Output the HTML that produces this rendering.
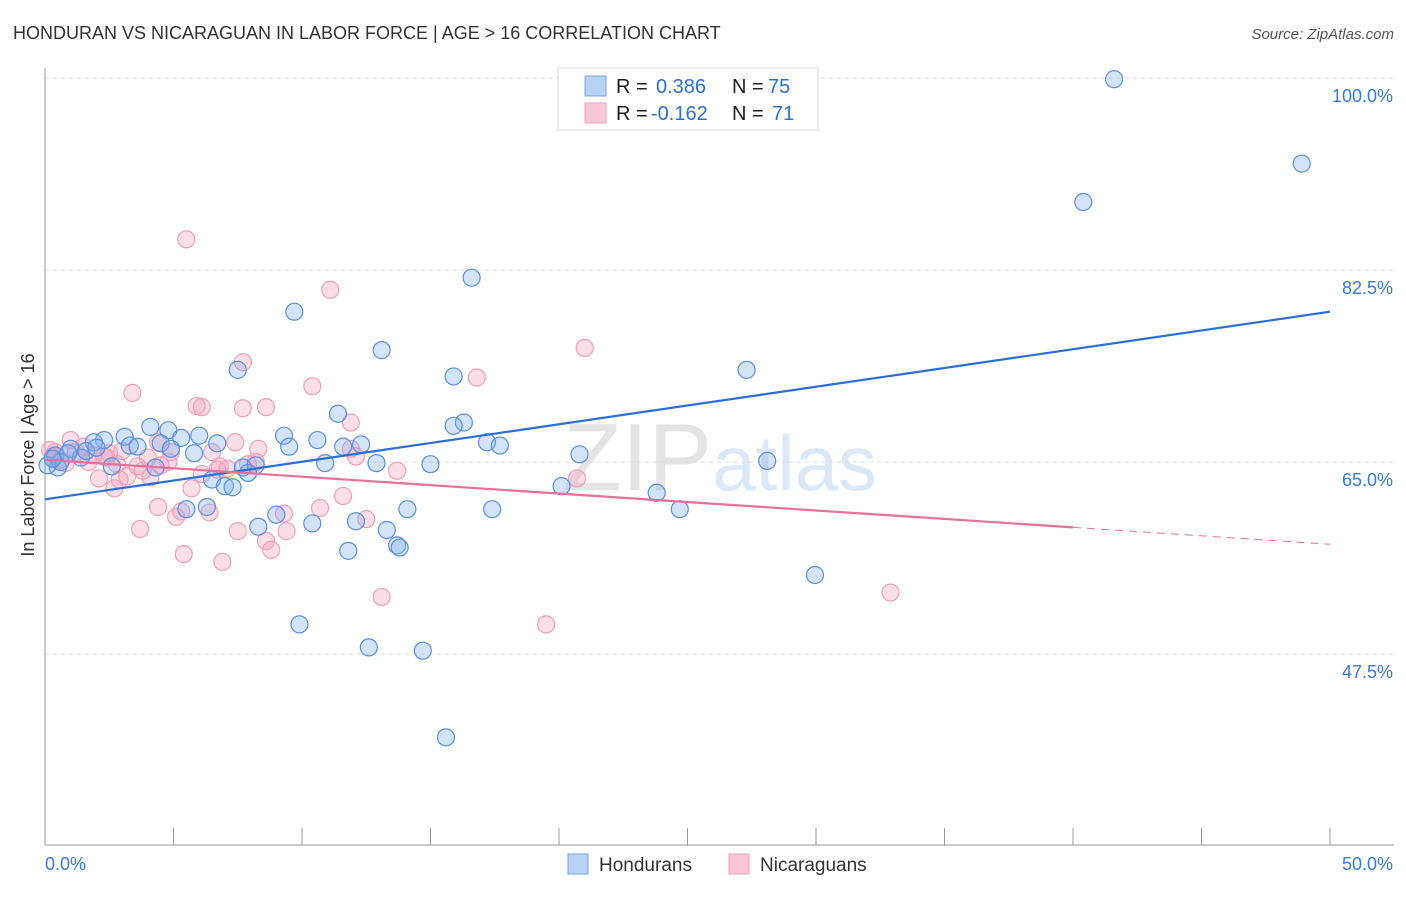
<!DOCTYPE html>
<html><head><meta charset="utf-8">
<style>
body{margin:0;background:#fff;font-family:"Liberation Sans",sans-serif;}
svg text{font-family:"Liberation Sans",sans-serif;}
</style></head>
<body>
<svg id="chart" width="1406" height="892" viewBox="0 0 1406 892" xmlns="http://www.w3.org/2000/svg">
<text x="13" y="39" font-size="18" fill="#333">HONDURAN VS NICARAGUAN IN LABOR FORCE | AGE &gt; 16 CORRELATION CHART</text>
<text x="1394" y="39" font-size="15" fill="#555" font-style="italic" text-anchor="end">Source: ZipAtlas.com</text>
<text x="720" y="490" font-size="96" fill="#e6e6e6" text-anchor="middle" font-family="Liberation Serif"><tspan fill="#e4e4e4">ZIP</tspan><tspan fill="#dce8f6" font-family="Liberation Sans" font-size="78">atlas</tspan></text>
<g id="grid"></g>
<g id="axes"></g>
<g id="marks"></g>
<g id="lines"></g>
<text transform="translate(34,455) rotate(-90)" font-size="18" fill="#333" text-anchor="middle">In Labor Force | Age &gt; 16</text>
<g>
<rect x="558" y="68" width="260" height="62" fill="#fff" stroke="#ddd"/>
<rect x="585" y="76" width="21" height="20" fill="#b8d2f4" stroke="#7aa6e6"/>
<rect x="585" y="103" width="21" height="20" fill="#f8c8d6" stroke="#eea0b8"/>
<text x="616" y="93" font-size="20" fill="#222">R = </text><text x="656" y="93" font-size="20" fill="#2f6fd0">0.386</text>
<text x="732" y="93" font-size="20" fill="#222">N = </text><text x="768" y="93" font-size="20" fill="#2f6fd0">75</text>
<text x="616" y="120" font-size="20" fill="#222">R = </text><text x="651" y="120" font-size="20" fill="#2f6fd0">-0.162</text>
<text x="732" y="120" font-size="20" fill="#222">N = </text><text x="772" y="120" font-size="20" fill="#2f6fd0">71</text>
</g>
<g>
<rect x="568" y="854" width="20" height="20" fill="#b8d2f4" stroke="#7aa6e6"/>
<text x="599" y="871" font-size="19" fill="#333">Hondurans</text>
<rect x="729" y="854" width="20" height="20" fill="#f8c8d6" stroke="#eea0b8"/>
<text x="760" y="871" font-size="19" fill="#333">Nicaraguans</text>
</g>
</svg>
<script>
const yTicks=[47.5,65.0,82.5,100.0];
const xTickLabels=["0.0%","50.0%"];
const blueX=[41.6,48.9,40.4,16.6,9.7,13.1,7.5,15.9,27.3,11.4,16.3,15.9,4.1,4.8,9.3,6.0,3.1,5.3,2.3,1.9,10.6,17.2,6.7,12.3,4.5,9.5,11.6,17.7,3.3,3.6,4.9,1.0,5.8,20.8,0.4,1.4,10.9,12.9,15.0,28.1,2.6,0.5,7.7,4.3,8.2,7.9,6.5,7.0,7.3,20.1,23.8,5.5,6.3,9.0,14.1,17.4,24.7,12.1,10.4,8.3,13.3,13.7,13.8,11.8,29.96,9.9,12.6,14.7,15.6,0.6,0.1,1.6,2.0,0.3,0.9];
const blueY=[99.9,92.2,88.7,81.8,78.7,75.2,73.4,72.8,73.4,69.4,68.6,68.3,68.2,67.9,67.4,67.4,67.3,67.2,67.0,66.8,67.0,66.8,66.7,66.6,66.7,66.4,66.4,66.5,66.5,66.4,66.2,66.2,65.8,65.7,65.6,65.4,64.9,64.9,64.8,65.1,64.6,64.5,64.5,64.5,64.7,64.0,63.4,62.8,62.7,62.8,62.2,60.7,60.9,60.2,60.7,60.7,60.7,59.6,59.4,59.1,58.8,57.4,57.2,56.9,54.7,50.2,48.1,47.8,39.9,65.0,64.7,66.0,66.3,65.3,65.8];
const pinkX=[5.5,11.1,21.0,7.7,16.8,10.4,3.4,5.9,6.1,7.7,8.6,11.9,7.4,1.0,4.4,8.3,11.9,6.5,4.9,12.1,2.3,4.0,0.4,1.7,2.8,4.5,8.2,6.8,3.6,7.1,13.7,2.1,4.1,3.2,2.9,20.7,6.1,2.7,5.7,4.4,5.3,6.4,10.7,5.1,11.6,9.3,12.5,3.7,7.5,9.4,8.6,8.8,5.4,6.9,13.1,32.9,19.5,0.6,1.2,0.2,1.5,2.5,3.0,0.8,1.9,4.8,6.7,7.9,3.8,2.4,0.3];
const pinkY=[85.3,80.7,75.4,74.1,72.7,71.9,71.3,70.1,70.0,69.9,70.0,68.6,66.8,67.0,66.8,66.2,66.2,65.9,65.9,65.5,65.5,65.4,65.9,65.0,64.8,64.7,65.0,64.6,64.6,64.4,64.2,63.5,63.6,63.7,63.4,63.5,63.9,62.6,62.6,60.9,60.5,60.4,60.8,60.0,61.9,60.3,59.8,58.9,58.7,58.7,57.8,57.0,56.6,55.9,52.7,53.1,50.2,65.2,65.9,66.1,66.4,65.8,66.0,64.9,65.6,65.0,64.3,64.8,64.2,65.4,65.5];
const blueTrend=[61.6,78.7];   // y at x=0 and x=50
const pinkTrend=[65.2,57.5];   // y at x=0 and x=50
const pinkSolidEnd=40;

const X0=45,X1=1330,Y65=462,PXP=10.97;
const sx=v=>X0+(X1-X0)*v/50;
const sy=v=>Y65-(v-65)*PXP;
const NS="http://www.w3.org/2000/svg";
function mk(tag,attrs,parent){const e=document.createElementNS(NS,tag);for(const k in attrs)e.setAttribute(k,attrs[k]);parent.appendChild(e);return e;}
const grid=document.getElementById('grid'),axes=document.getElementById('axes'),marks=document.getElementById('marks'),lines=document.getElementById('lines');
yTicks.forEach(t=>{
  const l=mk('line',{x1:45,x2:1394,y1:sy(t),y2:sy(t),stroke:'#ddd','stroke-dasharray':'4,4'},grid);
  
  
  const tx=mk('text',{x:1393,y:sy(t)+24,'font-size':18,fill:'#3b78d8','text-anchor':'end'},axes);
  tx.textContent=t.toFixed(1)+'%';
  
  
});
mk('line',{x1:45,x2:45,y1:68,y2:845,stroke:'#999'},axes);
mk('line',{x1:45,x2:1394,y1:845,y2:845,stroke:'#999'},axes);
for(let i=0;i<=10;i++){const x=sx(i*5);const t=mk('line',{x1:x,x2:x,y1:828,y2:845,stroke:'#999'},axes);
  
  }
const xl0=mk('text',{x:45,y:870,'font-size':18,fill:'#3b78d8'},axes);xl0.textContent=xTickLabels[0];


const xl1=mk('text',{x:1393,y:870,'font-size':18,fill:'#3b78d8','text-anchor':'end'},axes);xl1.textContent=xTickLabels[1];



pinkX.forEach((v,i)=>{const c=mk('circle',{cx:sx(v),cy:sy(pinkY[i]),r:8.5,fill:'rgba(244,160,188,0.35)',stroke:'#eea0b8','stroke-width':1.2},marks);
  
  });
blueX.forEach((v,i)=>{const c=mk('circle',{cx:sx(v),cy:sy(blueY[i]),r:8.5,fill:'rgba(130,175,235,0.35)',stroke:'#5b90de','stroke-width':1.2},marks);
  
  });
const pb=(t,x)=>t[0]+(t[1]-t[0])*x/50;
const bl=mk('line',{x1:sx(0),y1:sy(pb(blueTrend,0)),x2:sx(50),y2:sy(pb(blueTrend,50)),stroke:'#2b6fd6','stroke-width':2.2},lines);


const pl=mk('line',{x1:sx(0),y1:sy(pb(pinkTrend,0)),x2:sx(pinkSolidEnd),y2:sy(pb(pinkTrend,pinkSolidEnd)),stroke:'#e8709a','stroke-width':2.2},lines);


const pd=mk('line',{x1:sx(pinkSolidEnd),y1:sy(pb(pinkTrend,pinkSolidEnd)),x2:sx(50),y2:sy(pb(pinkTrend,50)),stroke:'#e8709a','stroke-width':1,'stroke-dasharray':'8,6'},lines);


</script>
</body></html>
